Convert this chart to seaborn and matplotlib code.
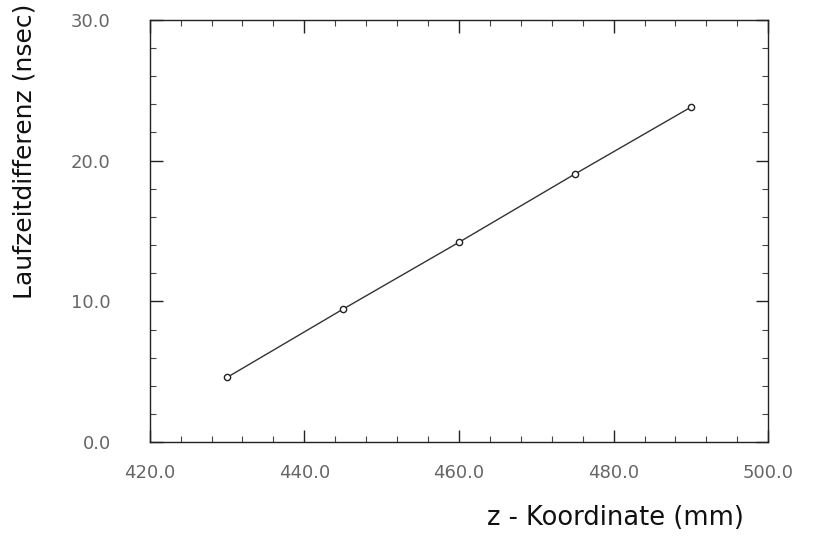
import matplotlib
matplotlib.use("Agg")
import matplotlib.pyplot as plt
from matplotlib.ticker import MultipleLocator, FormatStrFormatter
import seaborn as sns
import pandas as pd

# Measured transit-time difference along the z coordinate
z_mm = [430, 445, 460, 475, 490]
dt_ns = [4.6, 9.45, 14.2, 19.05, 23.8]

x_ticks = [420.0, 440.0, 460.0, 480.0, 500.0]
y_ticks = [0.0, 10.0, 20.0, 30.0]

sns.set_theme(style="white")
plt.rcParams["font.family"] = ["DejaVu Sans"]

df = pd.DataFrame({"z": z_mm, "dt": dt_ns})

fig = plt.figure(figsize=(8.27, 5.36), dpi=100)
ax = fig.add_axes([0.181, 0.175, 0.748, 0.788])

sns.lineplot(data=df, x="z", y="dt", ax=ax, color="#333333", linewidth=1.0,
             marker="o", markersize=4.5, markerfacecolor="white",
             markeredgecolor="#222222", markeredgewidth=1.0)

ax.set_xlim(420, 500)
ax.set_ylim(0, 30)
ax.set_xticks(x_ticks)
ax.set_yticks(y_ticks)
ax.xaxis.set_major_formatter(FormatStrFormatter("%.1f"))
ax.yaxis.set_major_formatter(FormatStrFormatter("%.1f"))
ax.yaxis.set_minor_locator(MultipleLocator(2))
ax.xaxis.set_minor_locator(MultipleLocator(4))

for s in ax.spines.values():
    s.set_color("#222222")
    s.set_linewidth(1.0)

ax.tick_params(axis="both", which="major", direction="in", length=9, width=1.0,
               color="#222222", labelsize=13, labelcolor="#666666",
               top=True, right=True, bottom=True, left=True)
ax.tick_params(axis="both", which="minor", direction="in", length=4, width=0.8,
               color="#444444", top=True, right=True, bottom=True, left=True)
ax.tick_params(axis="x", which="major", pad=16)
ax.tick_params(axis="y", which="major", pad=28)

ax.set_xlabel("z - Koordinate (mm)", fontsize=18.5, color="#111111")
ax.xaxis.set_label_coords(0.96, -0.148)
ax.xaxis.label.set_horizontalalignment("right")
ax.set_ylabel("Laufzeitdifferenz (nsec)", fontsize=18, color="#111111")
ax.yaxis.set_label_coords(-0.202, 1.038)
ax.yaxis.label.set_verticalalignment("center")
ax.yaxis.label.set_horizontalalignment("right")

fig.savefig("out.png", dpi=100, facecolor="white")
